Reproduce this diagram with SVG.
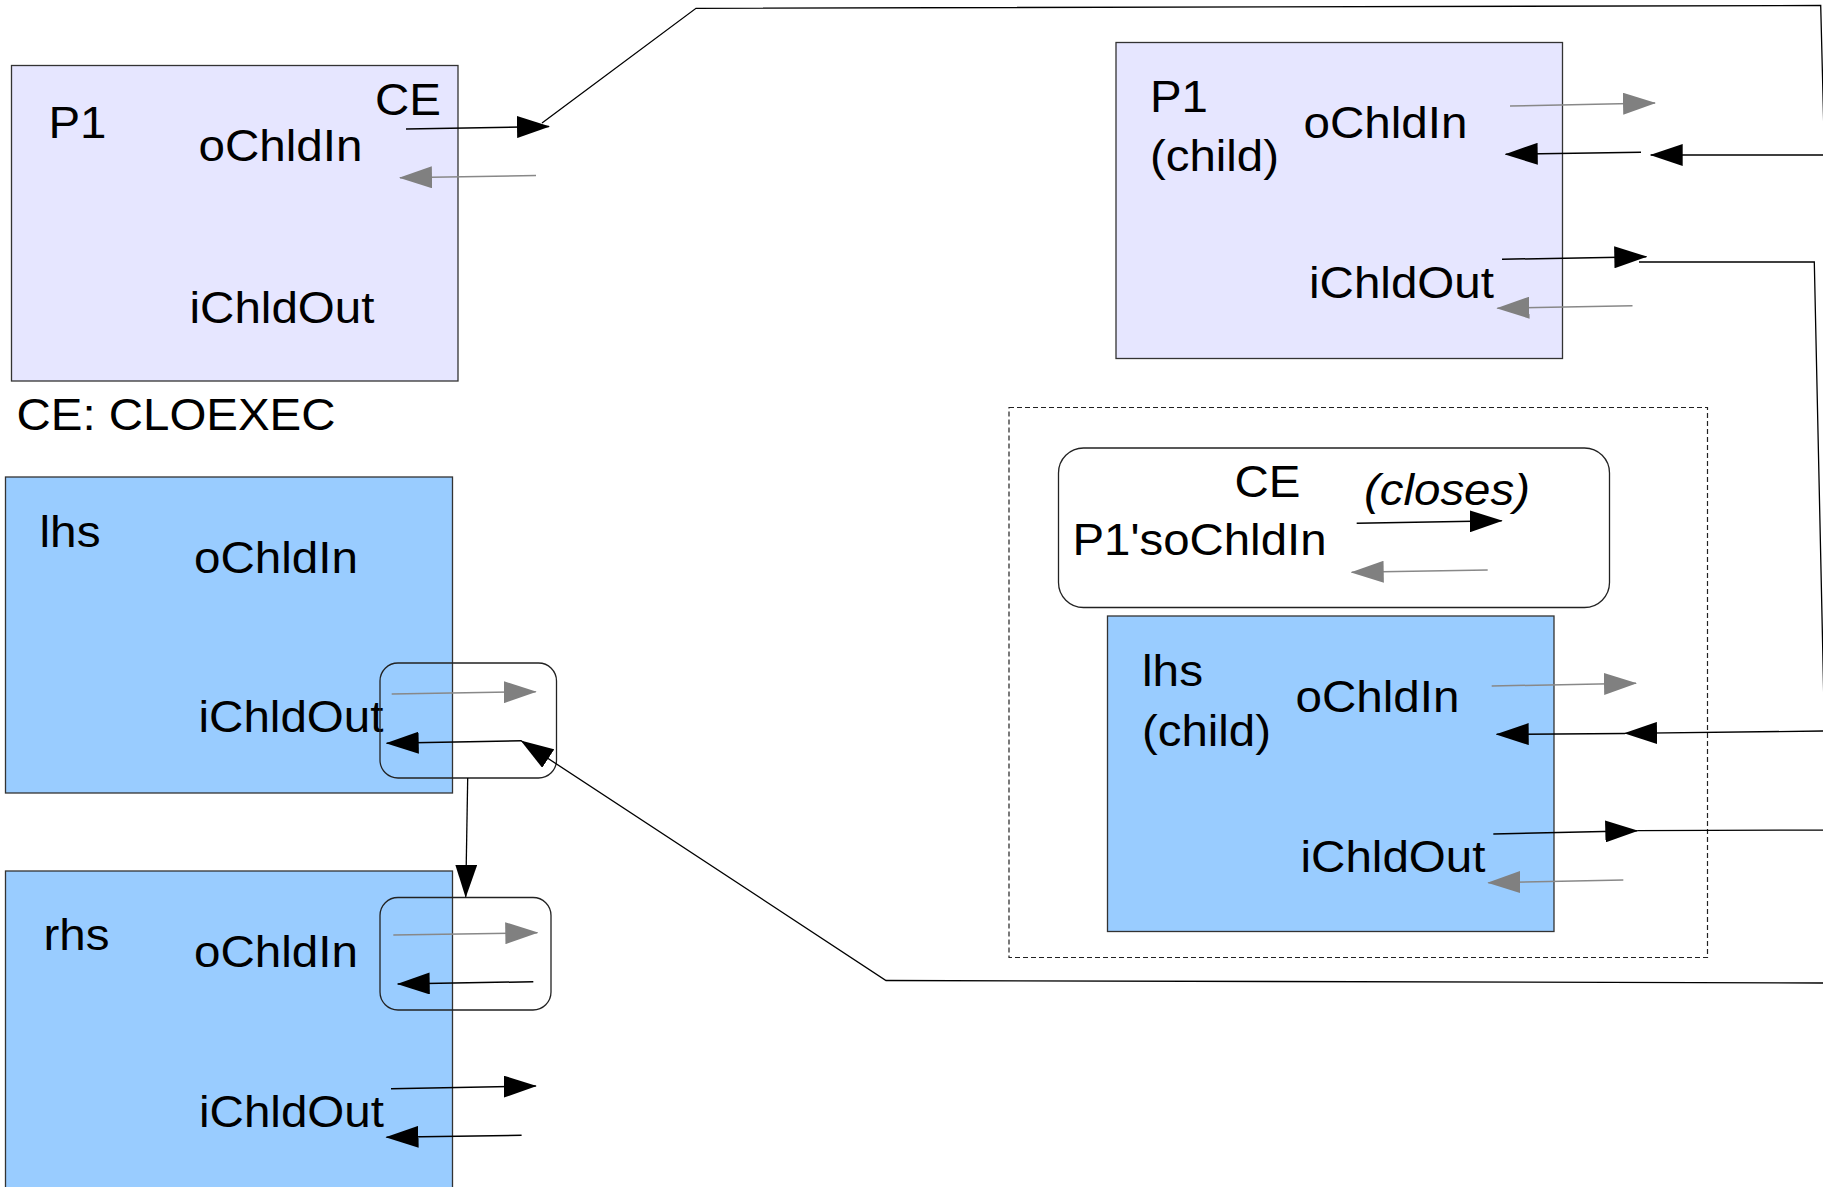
<svg xmlns="http://www.w3.org/2000/svg" width="1823" height="1187" viewBox="0 0 1823 1187">
<style>
  text { font-family: "Liberation Sans", Arial, sans-serif; font-size: 44.5px; fill: #000; }
  .it { font-style: italic; }
  .proc { fill: #e6e6ff; stroke: #333; stroke-width: 1.3; }
  .blue { fill: #99ccff; stroke: #333; stroke-width: 1.3; }
  .rbox { fill: none; stroke: #222; stroke-width: 1.3; }
  .dash { fill: none; stroke: #222; stroke-width: 1.2; stroke-dasharray: 5 3; }
  .blk { fill: none; stroke: #000; stroke-width: 1.5; marker-end: url(#ah-b); }
  .gry { fill: none; stroke: #888; stroke-width: 1.5; marker-end: url(#ah-g); }
  .con { fill: none; stroke: #000; stroke-width: 1.3; }
  .cona { fill: none; stroke: #000; stroke-width: 1.3; marker-end: url(#ah-b); }
</style>
<defs>
  <marker id="ah-b" markerUnits="userSpaceOnUse" viewBox="0 0 33 22" markerWidth="33" markerHeight="22" refX="32" refY="11" orient="auto">
    <path d="M0,0 L33,11 L0,22 z" fill="#000"/>
  </marker>
  <marker id="ah-g" markerUnits="userSpaceOnUse" viewBox="0 0 33 22" markerWidth="33" markerHeight="22" refX="32" refY="11" orient="auto">
    <path d="M0,0 L33,11 L0,22 z" fill="#808080"/>
  </marker>
</defs>
<rect x="0" y="0" width="1823" height="1187" fill="#fff"/>

<g id="legend">
  <text x="16.5" y="430" textLength="319" lengthAdjust="spacingAndGlyphs">CE: CLOEXEC</text>
</g>

<g id="p1">
  <rect class="proc" x="11.5" y="65.5" width="446.5" height="315.5"/>
  <text x="48.5" y="138" textLength="58" lengthAdjust="spacingAndGlyphs">P1</text>
  <text x="375" y="115" textLength="66" lengthAdjust="spacingAndGlyphs">CE</text>
  <text x="198.5" y="161" textLength="164" lengthAdjust="spacingAndGlyphs">oChldIn</text>
  <text x="189.5" y="323" textLength="185" lengthAdjust="spacingAndGlyphs">iChldOut</text>
</g>

<g id="p1-child">
  <rect class="proc" x="1116" y="42.5" width="446.5" height="316"/>
  <text x="1150" y="112" textLength="58" lengthAdjust="spacingAndGlyphs">P1</text>
  <text x="1150" y="171" textLength="129" lengthAdjust="spacingAndGlyphs">(child)</text>
  <text x="1303.5" y="138" textLength="164" lengthAdjust="spacingAndGlyphs">oChldIn</text>
  <text x="1309" y="298" textLength="185" lengthAdjust="spacingAndGlyphs">iChldOut</text>
</g>

<g id="child-group">
  <rect class="dash" x="1009" y="407.5" width="698.5" height="550"/>
</g>

<g id="ce-p1-ochldin">
  <rect class="rbox" x="1058.5" y="448" width="551" height="159.5" rx="25" ry="25"/>
  <text x="1234.5" y="497" textLength="66" lengthAdjust="spacingAndGlyphs">CE</text>
  <text class="it" x="1364" y="505" textLength="166" lengthAdjust="spacingAndGlyphs">(closes)</text>
  <text x="1072.5" y="555" textLength="254" lengthAdjust="spacingAndGlyphs">P1'soChldIn</text>
</g>

<g id="lhs-child">
  <rect class="blue" x="1107.5" y="616" width="446.5" height="315.5"/>
  <text x="1142" y="686" textLength="61" lengthAdjust="spacingAndGlyphs">lhs</text>
  <text x="1142" y="746" textLength="129" lengthAdjust="spacingAndGlyphs">(child)</text>
  <text x="1295.5" y="711.5" textLength="164" lengthAdjust="spacingAndGlyphs">oChldIn</text>
  <text x="1300.5" y="871.5" textLength="185" lengthAdjust="spacingAndGlyphs">iChldOut</text>
</g>

<g id="lhs">
  <rect class="blue" x="5.5" y="477" width="447" height="316"/>
  <text x="39.5" y="547" textLength="61" lengthAdjust="spacingAndGlyphs">lhs</text>
  <text x="194" y="573" textLength="164" lengthAdjust="spacingAndGlyphs">oChldIn</text>
  <text x="198.5" y="732" textLength="185" lengthAdjust="spacingAndGlyphs">iChldOut</text>
</g>

<g id="rhs">
  <rect class="blue" x="5.5" y="871" width="447" height="330"/>
  <text x="43.5" y="949.5" textLength="66" lengthAdjust="spacingAndGlyphs">rhs</text>
  <text x="194" y="967" textLength="164" lengthAdjust="spacingAndGlyphs">oChldIn</text>
  <text x="199" y="1127" textLength="185" lengthAdjust="spacingAndGlyphs">iChldOut</text>
</g>

<g id="lhs-ichldout-pipe">
  <rect class="rbox" x="380" y="663" width="176.5" height="115" rx="18" ry="18"/>
</g>
<g id="rhs-ochldin-pipe">
  <rect class="rbox" x="380" y="897.5" width="171" height="112.5" rx="18" ry="18"/>
</g>

<g id="connectors">
  <!-- pipe ends -->
  <line class="blk" x1="406" y1="129" x2="549" y2="126.5"/>
  <line class="gry" x1="536" y1="175.5" x2="400" y2="177.7"/>

  <line class="gry" x1="1510" y1="106" x2="1655" y2="103"/>
  <line class="blk" x1="1641" y1="152.3" x2="1505.7" y2="154.3"/>
  <line class="blk" x1="1502" y1="259.3" x2="1646.3" y2="256.7"/>
  <line class="gry" x1="1632.5" y1="305.7" x2="1497.4" y2="308.3"/>

  <line class="blk" x1="1356.7" y1="523.3" x2="1501.7" y2="520.7"/>
  <line class="gry" x1="1487.7" y1="570" x2="1351.7" y2="572.3"/>

  <line class="gry" x1="1491.7" y1="686" x2="1636" y2="683.3"/>
  <line class="blk" x1="1625" y1="733.5" x2="1496.7" y2="734.3"/>
  <line class="blk" x1="1493.3" y1="834" x2="1637.3" y2="830.7"/>
  <line class="gry" x1="1623.3" y1="880" x2="1488.3" y2="882.7"/>

  <line class="gry" x1="391.7" y1="694" x2="535.7" y2="691.7"/>
  <line class="blk" x1="521.7" y1="740.7" x2="386.7" y2="743.3"/>

  <line class="gry" x1="393.3" y1="935" x2="537.3" y2="932.7"/>
  <line class="blk" x1="533.3" y1="981.7" x2="397.7" y2="984"/>
  <line class="blk" x1="391" y1="1088.7" x2="535.8" y2="1086"/>
  <line class="blk" x1="521.6" y1="1135.3" x2="386.5" y2="1137.3"/>

  <!-- long connectors -->
  <polyline class="cona" points="542,123 696,8.3 1820.7,5.5 1824.5,155 1650.7,155"/>
  <polyline class="cona" points="1639,262 1814.3,262 1824.5,731 1625,733.3"/>
  <polyline class="cona" points="1637.3,830.7 1830,830 1830,983 886,980.5 521.5,741"/>
  <line class="cona" x1="467.7" y1="778" x2="465.7" y2="896.7"/>
</g>
</svg>
